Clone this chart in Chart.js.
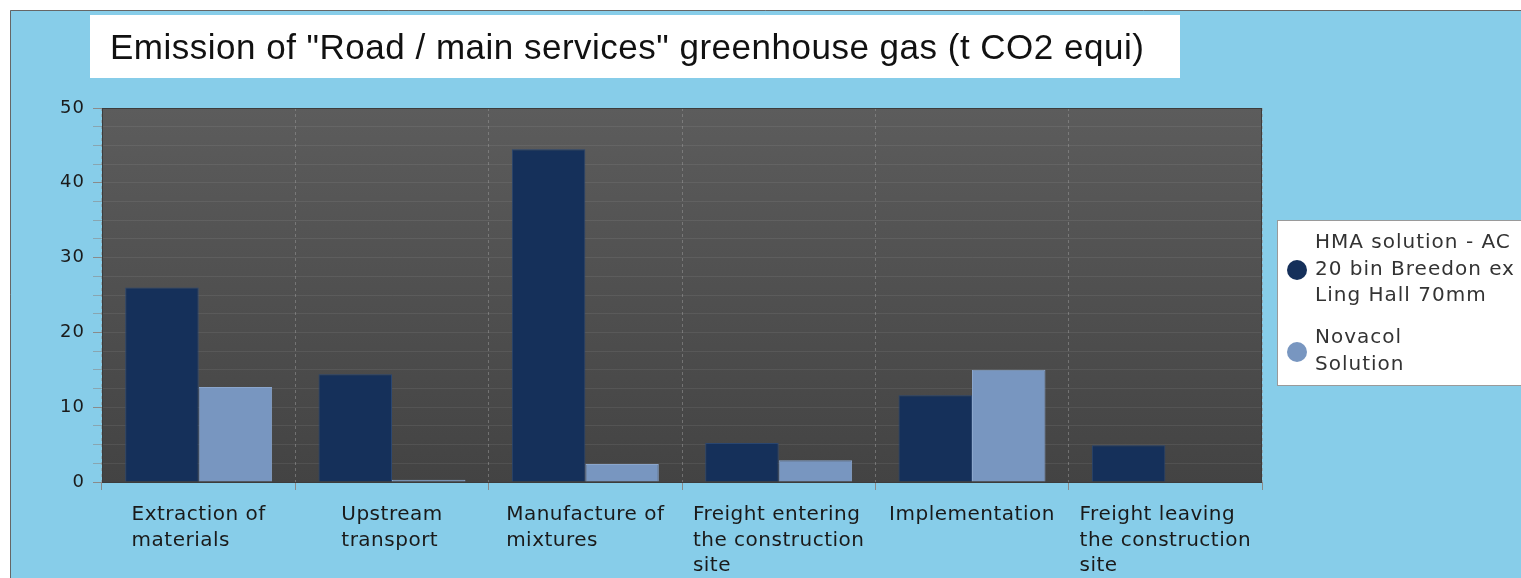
<!DOCTYPE html>
<html>
<head>
<meta charset="utf-8">
<script src="https://cdn.jsdelivr.net/npm/chart.js@4.4.0/dist/chart.umd.min.js"></script>
<style>
  html, body { margin: 0; padding: 0; background: #fff; }
  #wrap { width: 1521px; height: 578px; }
</style>
</head>
<body>
<div id="wrap"><canvas id="emissionChart" width="1521" height="578"></canvas></div>
<script>
// chart data
const chartTitle = 'Emission of "Road / main services" greenhouse gas (t CO2 equi)';
const categories = [
    ['Extraction of', 'materials'],
    ['Upstream', 'transport'],
    ['Manufacture of', 'mixtures'],
    ['Freight entering', 'the construction', 'site'],
    ['Implementation'],
    ['Freight leaving', 'the construction', 'site']
];
const hmaValues = [26, 14.4, 44.5, 5.2, 11.6, 4.9];
const novacolValues = [12.7, 0.3, 2.4, 2.9, 15.0, 0];
const seriesLabels = [
    ['HMA solution - AC', '20 bin Breedon ex', 'Ling Hall 70mm'],
    ['Novacol', 'Solution']
];
const yMax = 50;
const yStep = 2.5;

const darkBlue = '#15305a';
const lightBlue = '#7896c0';
const skyBlue = '#87cde9';
const labelFont = '20px "DejaVu Sans", Verdana, sans-serif';

// background, frame, title box and plot gradient
const backdropPlugin = {
    id: 'backdrop',
    beforeDraw(chart) {
        const ctx = chart.ctx;
        const area = chart.chartArea;
        ctx.save();
        ctx.fillStyle = '#ffffff';
        ctx.fillRect(0, 0, chart.width, chart.height);
        ctx.fillStyle = skyBlue;
        ctx.fillRect(10, 10, chart.width - 10, chart.height - 10);
        ctx.strokeStyle = '#666';
        ctx.lineWidth = 1;
        ctx.beginPath();
        ctx.moveTo(10.5, chart.height);
        ctx.lineTo(10.5, 10.5);
        ctx.lineTo(chart.width, 10.5);
        ctx.stroke();

        ctx.fillStyle = '#ffffff';
        ctx.fillRect(90, 15, 1090, 63);
        ctx.fillStyle = '#111';
        ctx.font = '35px "Liberation Sans", Arial, sans-serif';
        ctx.letterSpacing = '0.5px';
        ctx.textBaseline = 'alphabetic';
        ctx.textAlign = 'left';
        ctx.fillText(chartTitle, 110, 59);

        const grad = ctx.createLinearGradient(0, area.top, 0, area.bottom);
        grad.addColorStop(0, '#5c5c5c');
        grad.addColorStop(1, '#434343');
        ctx.fillStyle = grad;
        ctx.fillRect(area.left, area.top, area.right - area.left, area.bottom - area.top);
        ctx.restore();
        // wider tracking for the axis numbers drawn by the scale
        ctx.letterSpacing = '1px';
    },
    afterDraw(chart) {
        const ctx = chart.ctx;
        const area = chart.chartArea;
        const xScale = chart.scales.x;
        ctx.save();
        // plot outline
        ctx.strokeStyle = '#3c3c3c';
        ctx.lineWidth = 1;
        ctx.strokeRect(area.left + 0.5, area.top + 0.5, area.right - area.left - 1, area.bottom - area.top);

        // category labels, left aligned block centred on each category
        ctx.font = labelFont;
        ctx.letterSpacing = '0.5px';
        ctx.fillStyle = '#1a1a1a';
        ctx.textBaseline = 'middle';
        ctx.textAlign = 'left';
        categories.forEach((lines, i) => {
            const cx = xScale.getPixelForTick(i);
            const w = Math.max(...lines.map(l => ctx.measureText(l).width));
            lines.forEach((line, j) => {
                ctx.fillText(line, cx - w / 2, area.bottom + 33 + j * 25.5);
            });
        });

        // legend
        const lx = 1277, ly = 220;
        ctx.fillStyle = '#ffffff';
        ctx.fillRect(lx, ly, chart.width - lx + 5, 165);
        ctx.strokeStyle = '#9a9a9a';
        ctx.strokeRect(lx + 0.5, ly + 0.5, chart.width - lx + 5, 165);
        ctx.letterSpacing = '1px';
        const itemTops = [243, 338];
        chart.data.datasets.forEach((ds, i) => {
            const lines = seriesLabels[i];
            const top = itemTops[i];
            const mid = top + (lines.length - 1) * 26 / 2;
            ctx.fillStyle = ds.backgroundColor;
            ctx.beginPath();
            ctx.arc(1297, mid + 1, 10, 0, Math.PI * 2);
            ctx.fill();
            ctx.fillStyle = '#333';
            ctx.font = labelFont;
            lines.forEach((line, j) => ctx.fillText(line, 1315, top + j * 26.5));
        });
        ctx.restore();
    }
};

const ctx = document.getElementById('emissionChart').getContext('2d');
new Chart(ctx, {
    type: 'bar',
    data: {
        labels: categories,
        datasets: [{
            label: seriesLabels[0].join(' '),
            data: hmaValues,
            backgroundColor: darkBlue,
            borderColor: '#2a4670',
            borderWidth: 1
        },
        {
            label: seriesLabels[1].join(' '),
            data: novacolValues,
            backgroundColor: lightBlue,
            borderColor: '#8ba6cc',
            borderWidth: 1
        }]
    },
    options: {
        responsive: false,
        animation: false,
        layout: {
            padding: { left: 0, top: 108, right: 259, bottom: 0 }
        },
        datasets: {
            bar: {
                categoryPercentage: 0.76,
                barPercentage: 1.0
            }
        },
        scales: {
            x: {
                afterFit: (scale) => { scale.height = 96; },
                ticks: { display: false },
                grid: {
                    offset: true,
                    color: 'rgba(150,150,150,0.55)',
                    tickColor: '#8a8a8a',
                    tickLength: 8
                },
                border: { color: '#8a8a8a', dash: [3, 3] }
            },
            y: {
                min: 0,
                max: yMax,
                afterFit: (scale) => { scale.width = 102; },
                ticks: {
                    stepSize: yStep,
                    autoSkip: false,
                    padding: 8,
                    color: '#1a1a1a',
                    font: { family: '"DejaVu Sans", Verdana, sans-serif', size: 18 },
                    callback: (value) => (value % 10 === 0 ? value : '')
                },
                grid: {
                    color: 'rgba(255,255,255,0.07)',
                    tickColor: (c) => (c.tick && c.tick.value % 10 === 0 ? '#8a8a8a' : 'rgba(138,138,138,0.6)'),
                    tickLength: 9
                },
                border: { color: '#8a8a8a' }
            }
        },
        plugins: {
            legend: { display: false },
            title: { display: false },
            tooltip: { enabled: false }
        }
    },
    plugins: [backdropPlugin]
});
</script>
</body>
</html>
